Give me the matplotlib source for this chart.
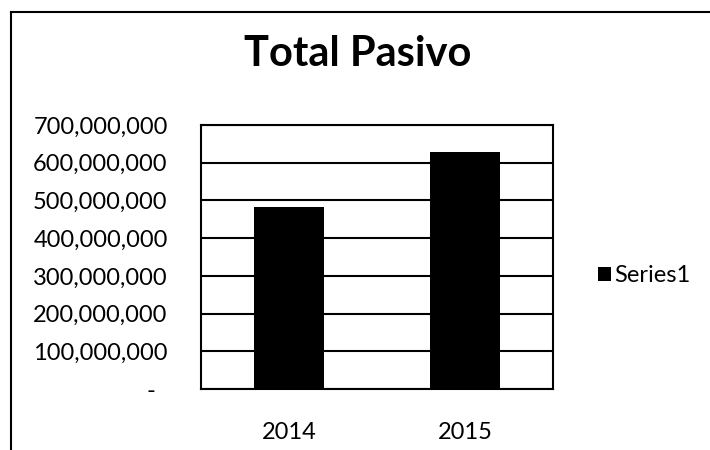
import matplotlib.pyplot as plt
from matplotlib.lines import Line2D
from matplotlib.ticker import FuncFormatter

plt.rcParams['font.family'] = ['Lato', 'DejaVu Sans']

years = ["2014", "2015"]
totalPasivo = [482000000, 628000000]
seriesName = "Series1"
chartTitle = "Total Pasivo"


def accFmt(v, pos):
    # Excel accounting style: zero shown as a dash
    if v == 0:
        return "-  "
    return "{:,.0f}".format(v)


fig = plt.figure(figsize=(7.1, 4.5), dpi=100)
ax = fig.add_axes([201 / 710, 61 / 450, 352 / 710, 264 / 450])

ax.bar(range(len(years)), totalPasivo, width=0.4, color="black", label=seriesName, zorder=3)
ax.set_xlim(-0.5, len(years) - 0.5)
ax.set_ylim(0, 700000000)
ax.set_yticks(range(0, 700000001, 100000000))
ax.yaxis.set_major_formatter(FuncFormatter(accFmt))
ax.set_xticks(range(len(years)))
ax.set_xticklabels(years)
ax.tick_params(axis='both', length=0, labelsize=17, colors="black")
ax.tick_params(axis='y', pad=24)
ax.tick_params(axis='x', pad=24)
ax.grid(axis='y', color="black", linewidth=1.5, zorder=0)
for sp in ax.spines.values():
    sp.set_color("black")
    sp.set_linewidth(1.5)

fig.text(358 / 710, 1 - 54 / 450, chartTitle, ha='center', va='center', fontsize=30, fontweight='bold')

ax.legend(loc='center left', bbox_to_anchor=(1.1, 0.43), frameon=False, fontsize=17,
          handlelength=0.55, handleheight=0.55, handletextpad=0.15, borderaxespad=0)

# page frame lines
fig.add_artist(Line2D([11 / 710, 11 / 710], [0, 1 - 12 / 450], color="black", linewidth=1.5))
fig.add_artist(Line2D([11 / 710, 1], [1 - 12 / 450, 1 - 12 / 450], color="black", linewidth=1.5))

fig.savefig("out.png", dpi=100)
plt.close()
